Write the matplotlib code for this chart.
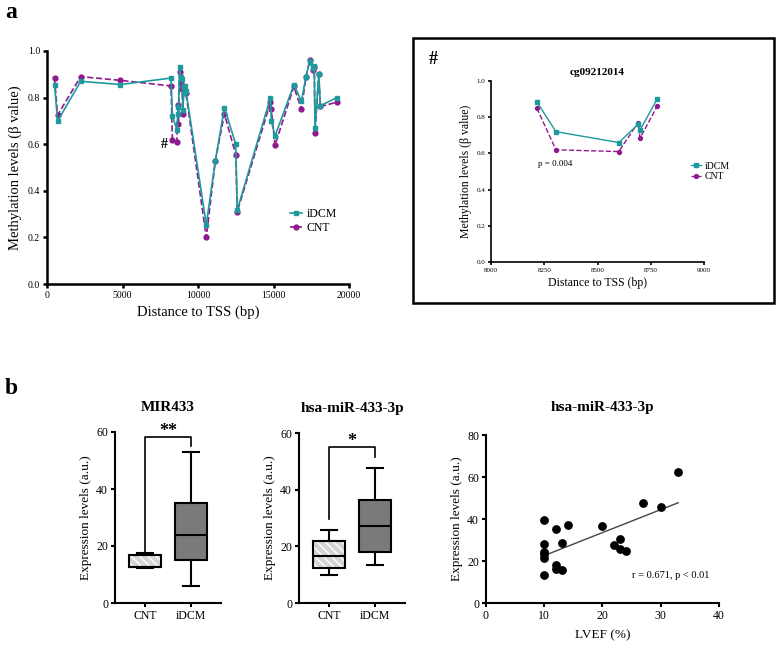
import numpy as np
import matplotlib
matplotlib.use('Agg')
import matplotlib.pyplot as plt
from matplotlib.patches import PathPatch, Rectangle

plt.rcParams['font.family'] = ['Liberation Serif', 'DejaVu Serif']

# panel a: methylation along the gene
pos = [500, 700, 2230, 4850, 8215, 8305, 8600, 8690, 8700, 8780, 8850, 8950, 9000, 9050,
       9150, 9200, 10550, 11150, 11750, 12500, 12600, 14800, 14850, 15100, 16350, 16850,
       17150, 17400, 17600, 17700, 17750, 18000, 18100, 19200]
idcm = [0.856, 0.699, 0.870, 0.856, 0.884, 0.72, 0.663, 0.76, 0.73, 0.93, 0.89, 0.88, 0.745, 0.82,
        0.85, 0.83, 0.255, 0.53, 0.757, 0.60, 0.318, 0.80, 0.70, 0.635, 0.855, 0.785,
        0.89, 0.955, 0.925, 0.935, 0.67, 0.90, 0.765, 0.80]
cnt = [0.883, 0.725, 0.89, 0.874, 0.85, 0.62, 0.61, 0.77, 0.685, 0.91, 0.862, 0.835, 0.73, 0.84,
       0.83, 0.82, 0.20, 0.53, 0.73, 0.555, 0.31, 0.78, 0.75, 0.595, 0.848, 0.75,
       0.89, 0.96, 0.92, 0.93, 0.65, 0.90, 0.762, 0.78]

# inset cg09212014
ins_pos = [8215, 8305, 8600, 8690, 8700, 8780]
ins_idcm = [0.885, 0.72, 0.66, 0.76, 0.73, 0.90]
ins_cnt = [0.85, 0.62, 0.61, 0.77, 0.685, 0.86]

# panel b: box stats (whislo, q1, med, q3, whishi)
mir433_cnt = [12.2, 12.5, 12.5, 16.7, 17.5]
mir433_idcm = [6.0, 15.1, 24.0, 35.0, 53.0]
mir3p_cnt = [9.8, 12.5, 16.6, 22.0, 25.9]
mir3p_idcm = [13.3, 17.9, 27.3, 36.2, 47.8]
groups = ['CNT', 'iDCM']

lvef = [10, 10, 10, 10, 10, 10, 12, 12, 12, 13, 13, 14, 20, 22, 23, 23, 24, 27, 30, 33]
expr = [39.7, 27.9, 24.5, 23.5, 21.5, 13.5, 35.2, 18.0, 16.3, 28.8, 15.8, 37.3, 36.7, 27.4,
        30.3, 25.8, 24.9, 47.8, 45.6, 62.2]

TEAL = '#1f9a9c'
PURPLE = '#8e1a8e'
W, H = 779, 649

fig = plt.figure(figsize=(W / 100, H / 100), dpi=100)


def px_axes(l, t, r, b):
    return fig.add_axes([l / W, 1 - b / H, (r - l) / W, (b - t) / H])


def style(ax, lw=1.5, ts=7):
    for s in ['top', 'right']:
        ax.spines[s].set_visible(False)
    for s in ['left', 'bottom']:
        ax.spines[s].set_linewidth(lw)
    ax.tick_params(width=lw, length=3, labelsize=ts, pad=2)


# ---- main methylation plot
ax = px_axes(47, 51, 349, 284)
ax.plot(pos, idcm, '-s', color=TEAL, lw=1.2, ms=2.8, label='iDCM')
ax.plot(pos, cnt, '--o', color=PURPLE, lw=1.2, ms=3.5, label='CNT', zorder=1)
ax.set_xlim(0, 20000)
ax.set_ylim(0, 1.0)
ax.set_xticks([0, 5000, 10000, 15000, 20000])
ax.set_yticks(np.arange(0, 1.01, 0.2))
ax.yaxis.set_major_formatter(plt.FormatStrFormatter('%.1f'))
style(ax, lw=1.8, ts=7)
ax.set_xlabel('Distance to TSS (bp)', fontsize=10.5, labelpad=4)
ax.set_ylabel('Methylation levels (\u03b2 value)', fontsize=10.5, labelpad=4)
ax.text(7800, 0.6, '#', fontsize=10, fontweight='bold', ha='center', va='center')
ax.legend(loc='center left', bbox_to_anchor=(0.77, 0.27), frameon=False, fontsize=8.5,
          handlelength=1.0, handletextpad=0.4, labelspacing=0.2)
fig.text(5 / W, 1 - 13 / H, 'a', fontsize=17, fontweight='bold', va='center')

# ---- inset box
fig.add_artist(Rectangle((413 / W, 1 - 303 / H), 361 / W, 265 / H, transform=fig.transFigure,
                         fill=False, lw=1.8, ec='black'))
fig.text(433 / W, 1 - 60 / H, '#', fontsize=13, fontweight='bold', ha='center', va='center')
ai = px_axes(491, 81, 704, 262)
ai.plot(ins_pos, ins_idcm, '-s', color=TEAL, lw=1.0, ms=2.2, label='iDCM')
ai.plot(ins_pos, ins_cnt, '--o', color=PURPLE, lw=1.0, ms=2.8, label='CNT', zorder=1)
ai.set_xlim(8000, 9000)
ai.set_ylim(0, 1.0)
ai.set_xticks([8000, 8250, 8500, 8750, 9000])
ai.set_yticks(np.arange(0, 1.01, 0.2))
ai.yaxis.set_major_formatter(plt.FormatStrFormatter('%.1f'))
style(ai, lw=1.2, ts=5)
ai.tick_params(length=2)
ai.set_xlabel('Distance to TSS (bp)', fontsize=8.5, labelpad=3)
ai.set_ylabel('Methylation levels (\u03b2 value)', fontsize=8.5, labelpad=3)
ai.set_title('cg09212014', fontsize=8, fontweight='bold', pad=4)
ai.text(8220, 0.54, 'p = 0.004', fontsize=6.5, va='center')
ai.legend(loc='center left', bbox_to_anchor=(0.9, 0.5), frameon=False, fontsize=7,
          handlelength=1.0, handletextpad=0.4, labelspacing=0.15)


# ---- panel b boxplots
def stats(v):
    return dict(whislo=v[0], q1=v[1], med=v[2], q3=v[3], whishi=v[4], fliers=[])


def boxpanel(rect, cnt_v, idcm_v, title, star, brk):
    bx = px_axes(*rect)
    res = bx.bxp([stats(cnt_v), stats(idcm_v)], positions=[1, 2], widths=0.7,
                 patch_artist=True, showfliers=False,
                 boxprops=dict(lw=1.5, edgecolor='black'),
                 medianprops=dict(color='black', lw=1.5),
                 whiskerprops=dict(lw=1.5), capprops=dict(lw=1.5))
    cap_w = 0.35
    for c in res['caps']:
        x0, x1 = c.get_xdata()
        m = (x0 + x1) / 2
        c.set_xdata([m - cap_w / 2, m + cap_w / 2])
    b0, b1 = res['boxes']
    b0.set_facecolor('#d4d4d4')
    b0.set_edgecolor('white')
    b0.set_hatch('\\\\\\\\')
    b0.set_linewidth(0)
    bx.add_patch(PathPatch(b0.get_path(), fc='none', ec='black', lw=1.5, zorder=3))
    b1.set_facecolor('#7a7a7a')
    bx.set_xlim(0.35, 2.65)
    bx.set_ylim(0, 60)
    bx.set_yticks([0, 20, 40, 60])
    bx.set_xticks([1, 2])
    bx.set_xticklabels(groups)
    style(bx, lw=1.5, ts=8.5)
    bx.set_ylabel('Expression levels (a.u.)', fontsize=9.5, labelpad=3)
    bx.set_title(title, fontsize=11, fontweight='bold', pad=15)
    y_lo, y_top, y_r = brk
    bx.plot([1, 1, 2, 2], [y_lo, y_top, y_top, y_r], color='black', lw=1.2, clip_on=False)
    bx.text(1.5, y_top + 0.3, star, fontsize=13, fontweight='bold', ha='center', va='baseline')
    return bx


boxpanel((115, 432, 221, 603), mir433_cnt, mir433_idcm, 'MIR433', '**', (18, 58.4, 55.1))
boxpanel((299, 433, 405, 603), mir3p_cnt, mir3p_idcm, 'hsa-miR-433-3p', '*', (29.5, 55, 51.4))
fig.text(5 / W, 1 - 389 / H, 'b', fontsize=17, fontweight='bold', va='center')

# ---- correlation scatter
sx = px_axes(486, 435, 719, 603)
sx.scatter(lvef, expr, s=28, color='black', zorder=3)
k, c0 = np.polyfit(lvef, expr, 1)
xl = np.array([min(lvef), max(lvef)])
sx.plot(xl, k * xl + c0, color='#444444', lw=1.0)
sx.set_xlim(0, 40)
sx.set_ylim(0, 80)
sx.set_xticks([0, 10, 20, 30, 40])
sx.set_yticks([0, 20, 40, 60, 80])
style(sx, lw=1.5, ts=8.5)
sx.set_xlabel('LVEF (%)', fontsize=9.5, labelpad=5)
sx.set_ylabel('Expression levels (a.u.)', fontsize=9.5, labelpad=3)
sx.set_title('hsa-miR-433-3p', fontsize=11, fontweight='bold', pad=17)
sx.text(25, 12, 'r = 0.671, p < 0.01', fontsize=7.5)

fig.savefig('out.png', dpi=100)
